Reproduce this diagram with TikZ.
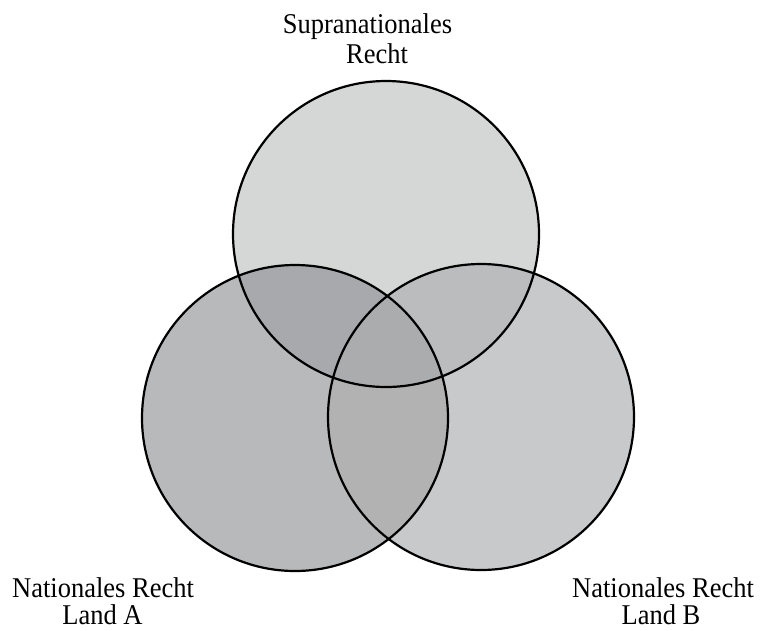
\documentclass[tikz,border=0pt]{standalone}
\usepackage{fontspec}
\setmainfont{Liberation Serif}
\definecolor{cTop}{RGB}{213,215,214}
\definecolor{cLeft}{RGB}{184,185,187}
\definecolor{cRight}{RGB}{200,201,203}
\definecolor{cTL}{RGB}{168,169,173}
\definecolor{cTR}{RGB}{187,188,190}
\definecolor{cLR}{RGB}{178,178,178}
\definecolor{cAll}{RGB}{171,172,174}
\tikzset{
  lbl/.style={anchor=base,inner sep=0pt,font=\fontsize{26.5}{30}\selectfont,yscale=1.08,transform shape},
  ring/.style={draw=black,line width=2.2pt}
}
\begin{document}
\begin{tikzpicture}[x=1pt,y=-1pt]
\useasboundingbox (0,0) rectangle (760,630);
\fill[white] (0,0) rectangle (760,630);
\coordinate (T) at (386,234);
\coordinate (L) at (295,418);
\coordinate (R) at (481,417);
\def\rad{153}
% single regions
\fill[cTop] (T) circle (\rad);
\fill[cLeft] (L) circle (\rad);
\fill[cRight] (R) circle (\rad);
% pairwise
\begin{scope}\clip (T) circle (\rad); \fill[cTL] (L) circle (\rad);\end{scope}
\begin{scope}\clip (T) circle (\rad); \fill[cTR] (R) circle (\rad);\end{scope}
\begin{scope}\clip (L) circle (\rad); \fill[cLR] (R) circle (\rad);\end{scope}
% triple
\begin{scope}\clip (T) circle (\rad); \clip (L) circle (\rad); \fill[cAll] (R) circle (\rad);\end{scope}
% outlines
\draw[ring] (T) circle (\rad);
\draw[ring] (L) circle (\rad);
\draw[ring] (R) circle (\rad);
% labels
\node[lbl] (t1) at (367.5,33) {Supranationales};
\node[lbl] (t2) at (377,63) {Recht};
\node[lbl] (a1) at (103,597) {Nationales Recht};
\node[lbl] (a2) at (102.5,624) {Land A};
\node[lbl] (b1) at (663,597) {Nationales Recht};
\node[lbl] (b2) at (661,624) {Land B};
\end{tikzpicture}
\end{document}
